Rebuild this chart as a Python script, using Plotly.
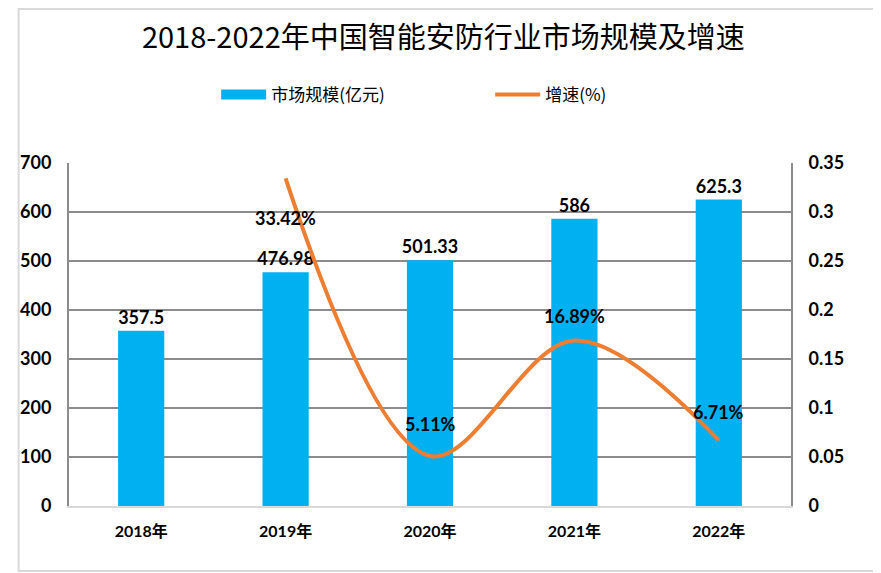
import plotly.graph_objects as go

years = ["2018年", "2019年", "2020年", "2021年", "2022年"]
market_size = [357.5, 476.98, 501.33, 586, 625.3]
growth_years = ["2019年", "2020年", "2021年", "2022年"]
growth = [0.3342, 0.0511, 0.1689, 0.0671]
growth_labels = ["33.42%", "5.11%", "16.89%", "6.71%"]
growth_label_shift = [-40, 32, 24, 28]

OFFX, OFFY = 11, 8  # page offset of the figure
W, H = 881 - 8, 573 - 8
L, T = 63 - OFFX, 163 - OFFY
pw, ph = 731, 343
R, B = W - L - pw, H - T - ph

num_font = "Lato, Noto Sans CJK SC, sans-serif"
BLUE, ORANGE = "#00B0F0", "#ED7D31"

fig = go.Figure()
fig.add_trace(go.Bar(
    x=years, y=market_size, name="市场规模(亿元)", showlegend=False,
    marker=dict(color=BLUE, line=dict(width=0)),
    width=0.32,
    text=[str(v) for v in market_size], textposition="outside", constraintext="none",
    textfont=dict(family=num_font, size=18, color="#000000", weight="bold"),
    cliponaxis=False,
))
# legend swatch for the bars (wide rectangle like the original)
fig.add_trace(go.Scatter(
    x=[None], y=[None], name="市场规模(亿元)", mode="lines",
    line=dict(color=BLUE, width=16), showlegend=True,
))
fig.add_trace(go.Scatter(
    x=growth_years, y=growth, name="增速(%)", yaxis="y2",
    mode="lines", line=dict(color=ORANGE, width=4, shape="spline", smoothing=1.0),
    cliponaxis=False,
))
for xv, yv, lab, sh in zip(growth_years, growth, growth_labels, growth_label_shift):
    fig.add_annotation(x=xv, y=yv, yref="y2", text=lab, showarrow=False, yshift=sh,
                       font=dict(family=num_font, size=18, color="#000000", weight="bold"))

fig.add_shape(type="rect", xref="paper", yref="paper",
              x0=-(L - 1) / pw, x1=(W - 2 - L) / pw,
              y0=-(H - 2 - (T + ph)) / ph, y1=(T + ph - 1) / ph,
              line=dict(color="#d9d9d9", width=2), fillcolor="rgba(0,0,0,0)", layer="below")

fig.update_layout(
    width=W, height=H,
    margin=dict(l=L, r=R, t=T, b=B),
    paper_bgcolor="white", plot_bgcolor="white",
    title=dict(text="2018-2022年中国智能安防行业市场规模及增速", x=(442 - 63) / pw, xref="paper",
               xanchor="center", y=1 - (38 - OFFY) / H, yanchor="middle",
               font=dict(family="Noto Sans CJK SC, sans-serif", size=29, color="#000000")),
    showlegend=True,
    legend=dict(orientation="h", x=(212 - 63) / pw, xanchor="left",
                y=(T + ph - (95 - OFFY)) / ph, yanchor="middle",
                font=dict(family="Noto Sans CJK SC, sans-serif", size=17, color="#000000"),
                entrywidth=214, itemwidth=45, bgcolor="rgba(0,0,0,0)"),
    xaxis=dict(type="category", showgrid=False, showline=True, linecolor="#d9d9d9", linewidth=2,
               ticks="", tickfont=dict(family=num_font, size=16, color="#000000", weight="bold"),
               ticklabelstandoff=10),
    yaxis=dict(range=[0, 700], dtick=100, showgrid=True, gridcolor="#8c8c8c", gridwidth=2,
               zeroline=False, showline=True, linecolor="#8c8c8c", linewidth=2,
               tickfont=dict(family=num_font, size=18, color="#000000", weight="bold"),
               ticklabelstandoff=12),
    yaxis2=dict(range=[0, 0.35], dtick=0.05, overlaying="y", side="right", showgrid=False,
                zeroline=False, showline=True, linecolor="#8c8c8c", linewidth=2,
                tickfont=dict(family=num_font, size=18, color="#000000", weight="bold"),
                ticklabelstandoff=12),
)

fig.write_html("out.html")
